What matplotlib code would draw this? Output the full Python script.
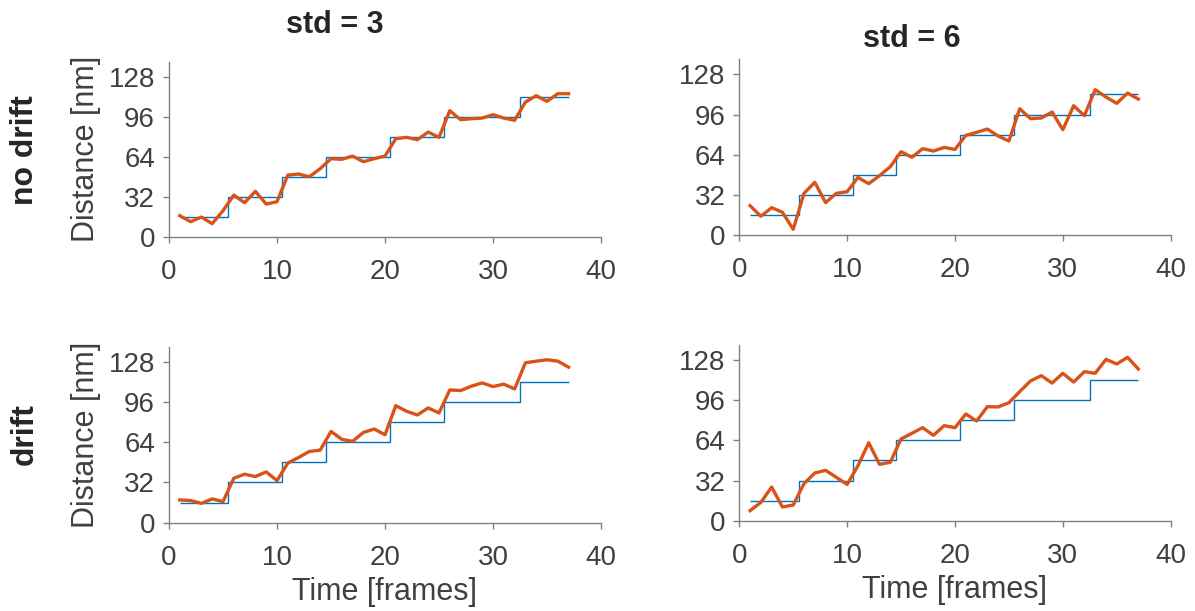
import matplotlib
matplotlib.use("Agg")
import matplotlib.pyplot as plt
import numpy as np

plt.rcParams['font.family'] = ['Liberation Sans', 'DejaVu Sans']

frames = list(range(1, 38))

# true step trace (same for all panels)
step_edges = [1, 5.5, 10.5, 14.5, 20.5, 25.5, 32.5, 37]
step_levels = [16, 32, 48, 64, 80, 96, 112]

nodrift_std3 = [16.8, 12.0, 15.7, 10.4, 20.8, 33.3, 27.2, 36.3, 26.1, 28.0,
                49.3, 50.1, 48.0, 54.4, 62.4, 61.9, 64.5, 60.0, 62.4, 64.5,
                78.4, 79.5, 77.6, 83.7, 79.5, 100.8, 93.6, 94.4, 94.9, 97.6,
                94.9, 93.1, 107.7, 112.8, 108.3, 114.4, 114.4]
nodrift_std6 = [23.4, 14.9, 21.8, 18.1, 4.5, 33.2, 42.0, 25.8, 33.2, 34.5,
                45.9, 40.9, 47.3, 54.4, 66.4, 61.9, 68.8, 66.9, 69.8, 68.2,
                79.4, 81.8, 84.4, 78.9, 74.9, 100.6, 92.7, 93.2, 98.0, 83.9,
                103.0, 95.1, 115.8, 109.9, 104.9, 113.1, 108.3]
drift_std3 = [18.1, 17.6, 15.4, 18.9, 16.8, 35.4, 38.6, 36.7, 40.4, 33.5,
              47.4, 51.9, 56.7, 57.7, 72.6, 66.3, 64.7, 71.8, 74.5, 70.0,
              93.1, 88.6, 85.7, 91.3, 87.3, 105.6, 105.1, 108.6, 111.2, 108.3,
              110.2, 106.4, 127.2, 128.5, 129.6, 128.5, 123.7]
drift_std6 = [8.0, 14.6, 26.8, 10.9, 12.5, 29.5, 38.0, 40.1, 34.5, 28.9,
              43.8, 62.1, 44.9, 46.5, 65.1, 69.6, 74.1, 68.0, 75.7, 74.1,
              85.0, 79.4, 90.8, 90.6, 94.0, 102.8, 111.3, 115.5, 109.6, 117.4,
              110.4, 118.7, 117.4, 128.5, 124.8, 130.1, 120.8]

col_titles = ['std = 3', 'std = 6']
row_titles = ['no drift', 'drift']
yticks = [0, 32, 64, 96, 128]
xticks = [0, 10, 20, 30, 40]

W, H = 1195, 611
fig = plt.figure(figsize=(W / 100, H / 100), dpi=100)

def px(x0, x1, ytop, ybot):
    return [x0 / W, 1 - ybot / H, (x1 - x0) / W, (ybot - ytop) / H]

rects = [[px(169, 601, 61.7, 236.7), px(739.3, 1170.7, 59.3, 235)],
         [px(169, 601, 346.7, 522.7), px(739.3, 1170.7, 344.9, 520.7)]]
data = [[nodrift_std3, nodrift_std6], [drift_std3, drift_std6]]

spine_c = '#808080'
text_c = '#404040'

for r in range(2):
    for c in range(2):
        ax = fig.add_axes(rects[r][c])
        ax.stairs(step_levels, step_edges, baseline=None, color='#0072BD', lw=1.0)
        ax.plot(frames, data[r][c], color='#D95319', lw=2.4)
        ax.set_xlim(0, 40)
        ax.set_ylim(0, 140)
        ax.set_xticks(xticks)
        ax.set_yticks(yticks)
        for s in ['top', 'right']:
            ax.spines[s].set_visible(False)
        for s in ['left', 'bottom']:
            ax.spines[s].set_color(spine_c)
            ax.spines[s].set_linewidth(1.0)
        ax.tick_params(axis='both', direction='out', length=4, width=1.0,
                       color=spine_c, labelcolor=text_c, labelsize=20)
        ax.tick_params(axis='x', pad=12)
        ax.tick_params(axis='y', pad=6)
        if c == 0:
            ax.set_ylabel('Distance [nm]', fontsize=22, color=text_c)
            ax.yaxis.set_label_coords(-0.157, 0.5)
        if r == 1:
            ax.set_xlabel('Time [frames]', fontsize=22, color=text_c)
            ax.xaxis.set_label_coords(0.5, -0.31)

fig.text(335 / W, 1 - 33.3 / H, col_titles[0], fontsize=22, fontweight='bold',
         color='#262626', ha='center', va='baseline')
fig.text(912 / W, 1 - 46.7 / H, col_titles[1], fontsize=22, fontweight='bold',
         color='#262626', ha='center', va='baseline')
fig.text(33 / W, 1 - 150 / H, row_titles[0], fontsize=23, fontweight='bold',
         color='#262626', ha='center', va='baseline', rotation=90, rotation_mode='anchor')
fig.text(33 / W, 1 - 434.5 / H, row_titles[1], fontsize=23, fontweight='bold',
         color='#262626', ha='center', va='baseline', rotation=90, rotation_mode='anchor')

fig.savefig('out.png', dpi=100)
